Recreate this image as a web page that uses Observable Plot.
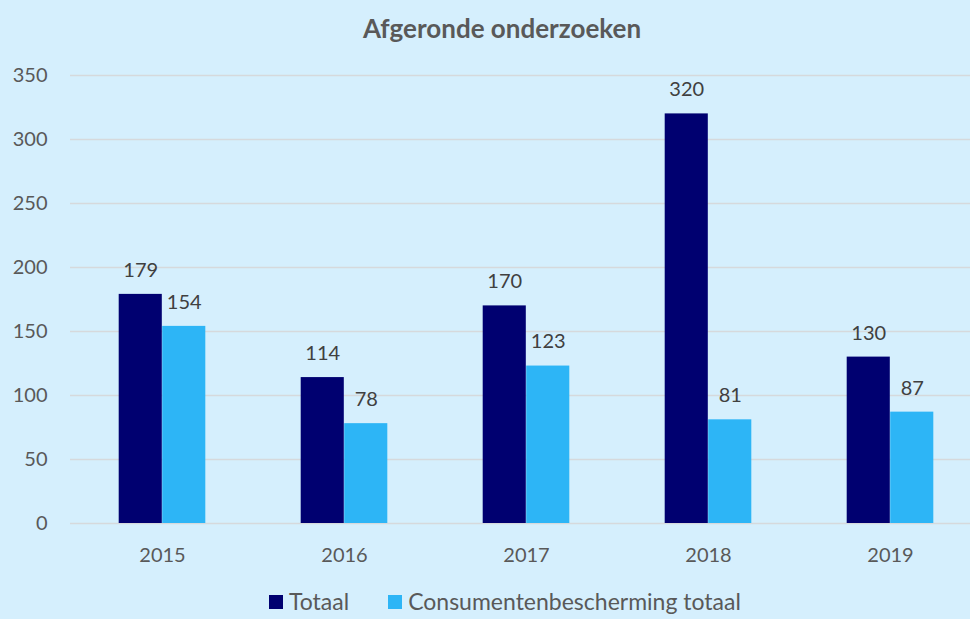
<!DOCTYPE html>
<html>
<head>
<meta charset="utf-8">
<script src="https://cdn.jsdelivr.net/npm/d3@7"></script>
<script src="https://cdn.jsdelivr.net/npm/@observablehq/plot@0.6"></script>
<style>
  html, body { margin: 0; padding: 0; width: 970px; height: 619px; overflow: hidden; background: #d5effd; font-family: Lato, "Noto Sans", sans-serif; color: #595959; }
  #title { height: 50px; text-align: center; font-weight: bold; font-size: 26px; line-height: 56px; color: #595959; padding-left: 34px; }
  #legend { position: absolute; left: 269px; top: 588px; display: flex; align-items: center; font-size: 23px; line-height: 27px; white-space: nowrap; }
  .item { display: flex; align-items: center; margin-right: 39px; }
  .sw { width: 14px; height: 14px; margin-right: 6px; }
</style>
</head>
<body>
<div id="title">Afgeronde onderzoeken</div>
<div id="chart"></div>
<div id="legend"></div>
<script>
const years = ["2015", "2016", "2017", "2018", "2019"];
const totaal = [179, 114, 170, 320, 130];
const consument = [154, 78, 123, 81, 87];
const seriesNames = ["Totaal", "Consumentenbescherming totaal"];
const seriesColors = ["#000070", "#2db5f6"];
const yTicks = [0, 50, 100, 150, 200, 250, 300, 350];

const dataT = years.map((y, i) => ({year: y, value: totaal[i]}));
const dataC = years.map((y, i) => ({year: y, value: consument[i]}));

// layout
const W = 970, H = 535, ML = 70, XR = 982;
const step = (XR - ML) / years.length;
const barW = 43.5;
const half = step / 2;

const chart = Plot.plot({
  width: W,
  height: H,
  marginTop: 25,
  marginBottom: 62,
  marginLeft: ML,
  marginRight: 0,
  style: {background: "transparent", fontFamily: "Lato, 'Noto Sans', sans-serif", fontSize: "20px", color: "#595959"},
  x: {domain: years, range: [ML, XR], padding: 0, label: null},
  y: {domain: [0, 350], label: null},
  marks: [
    Plot.ruleY(yTicks, {stroke: "#d6d9dc", strokeWidth: 1.5}),
    Plot.axisY({ticks: yTicks, tickSize: 0, tickPadding: 23, label: null, fontSize: 20}),
    Plot.axisX({anchor: "bottom", tickSize: 0, tickPadding: 24, label: null, fontSize: 20}),
    Plot.barY(dataT, {x: "year", y: "value", fill: seriesColors[0], insetLeft: half - barW, insetRight: half}),
    Plot.barY(dataC, {x: "year", y: "value", fill: seriesColors[1], insetLeft: half, insetRight: half - barW}),
    Plot.text(dataT, {x: "year", y: "value", text: d => String(d.value), dx: -barW / 2, dy: -24, lineAnchor: "middle", fill: "#404040", fontSize: 20}),
    Plot.text(dataC, {x: "year", y: "value", text: d => String(d.value), dx: barW / 2, dy: -24, lineAnchor: "middle", fill: "#404040", fontSize: 20})
  ]
});
document.getElementById("chart").appendChild(chart);

const legend = document.getElementById("legend");
seriesNames.forEach((name, i) => {
  const item = document.createElement("div");
  item.className = "item";
  const sw = document.createElement("div");
  sw.className = "sw";
  sw.style.background = seriesColors[i];
  const label = document.createElement("span");
  label.textContent = name;
  item.appendChild(sw);
  item.appendChild(label);
  legend.appendChild(item);
});
</script>
</body>
</html>
